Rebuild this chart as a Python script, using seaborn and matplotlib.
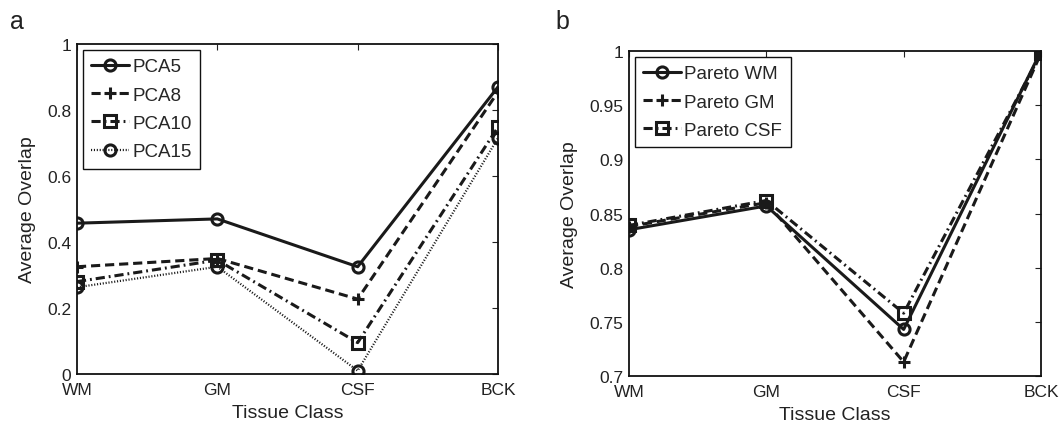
import seaborn as sns
import matplotlib.pyplot as plt
import pandas as pd

classes = ['WM', 'GM', 'CSF', 'BCK']

pca5 = [0.457, 0.470, 0.325, 0.870]
pca8 = [0.325, 0.350, 0.227, 0.855]
pca10 = [0.280, 0.345, 0.095, 0.748]
pca15 = [0.263, 0.325, 0.010, 0.715]

pareto_wm = [0.835, 0.857, 0.743, 1.000]
pareto_gm = [0.838, 0.860, 0.713, 0.998]
pareto_csf = [0.839, 0.862, 0.758, 0.998]

sns.set_style("white")
plt.rcParams['font.family'] = ['Liberation Sans', 'DejaVu Sans']

fig = plt.figure(figsize=(10.59, 4.35), dpi=100)
ax1 = fig.add_axes([77/1059, 1 - 375/435, 421/1059, 330/435])
ax2 = fig.add_axes([629/1059, 1 - 377/435, 412/1059, 325/435])

left_series = [
    ('PCA5', pca5, '-', 'o'),
    ('PCA8', pca8, (0, (3, 1.6)), '+'),
    ('PCA10', pca10, (0, (3, 1.3, 0.6, 1.3)), 's'),
    ('PCA15', pca15, (0, (0.5, 0.8)), 'o'),
]
right_series = [
    ('Pareto WM', pareto_wm, '-', 'o'),
    ('Pareto GM', pareto_gm, (0, (3, 1.6)), '+'),
    ('Pareto CSF', pareto_csf, (0, (3, 1.3, 0.6, 1.3)), 's'),
]


def draw(ax, series):
    for name, vals, ls, mk in series:
        df = pd.DataFrame({'cls': classes, 'val': vals})
        lw = 1.6 if ls == (0, (0.5, 0.8)) else 2.2
        sns.lineplot(data=df, x='cls', y='val', ax=ax, color='#1a1a1a',
                     linestyle=ls, linewidth=lw, marker=mk, markersize=8,
                     markerfacecolor='none', markeredgecolor='#1a1a1a',
                     markeredgewidth=2.2, label=name, sort=False)
    ax.set_xlim(0, 3)
    ax.set_xlabel('Tissue Class', fontsize=14, color='#222222', labelpad=5)
    ax.set_ylabel('Average Overlap', fontsize=14, color='#222222', labelpad=8)
    ax.tick_params(direction='in', length=4, width=0.8, top=True, right=True,
                   labelsize=12.5, pad=4, colors='#222222')
    ax.tick_params(axis='x', pad=6)
    for sp in ax.spines.values():
        sp.set_color('#111111')
        sp.set_linewidth(1.3)
    leg = ax.legend(loc='upper left', fontsize=13.5, handlelength=2.0,
                    handletextpad=0.2, borderpad=0.45, labelspacing=0.6,
                    fancybox=False, framealpha=1, borderaxespad=0.3)
    leg.get_frame().set_edgecolor('#111111')
    leg.get_frame().set_linewidth(1.0)


draw(ax1, left_series)
ax1.set_ylim(0, 1)
ax1.set_yticks([0, 0.2, 0.4, 0.6, 0.8, 1])
ax1.set_yticklabels(['0', '0.2', '0.4', '0.6', '0.8', '1'])

draw(ax2, right_series)
ax2.set_ylim(0.7, 1)
ax2.set_yticks([0.7, 0.75, 0.8, 0.85, 0.9, 0.95, 1])
ax2.set_yticklabels(['0.7', '0.75', '0.8', '0.85', '0.9', '0.95', '1'])

fig.text(10/1059, 1 - 22/435, 'a', fontsize=18, va='center', color='#222222')
fig.text(555/1059, 1 - 22/435, 'b', fontsize=18, va='center', color='#222222')

fig.savefig('out.png', dpi=100)
